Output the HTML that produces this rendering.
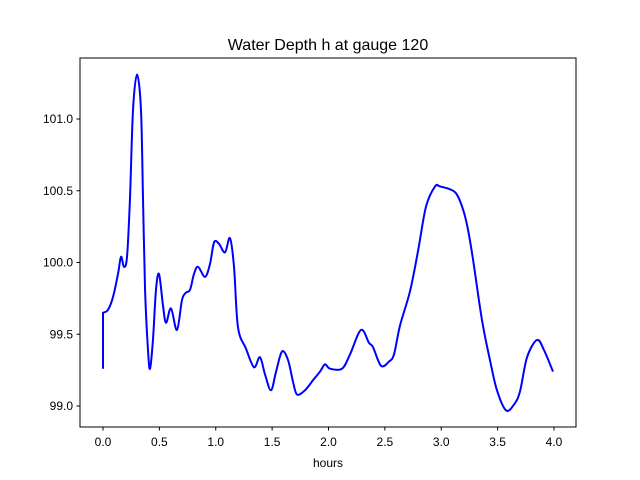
<!DOCTYPE html>
<html><head><meta charset="utf-8"><style>
body{margin:0;background:#fff;}
svg{display:block;font-family:"Liberation Sans","DejaVu Sans",sans-serif;}
</style></head><body>
<svg id="chart" width="640" height="480">
<rect width="640" height="480" fill="#fff"/>
<text x="328" y="50" font-size="16" text-anchor="middle">Water Depth h at gauge 120</text>
<text x="328" y="467" font-size="12" text-anchor="middle">hours</text>
<g id="ticks"></g>
<path id="line" fill="none" stroke="#0000ff" stroke-width="2"/>
<rect x="80" y="58" width="496" height="369" fill="none" stroke="#000" stroke-width="1"/>
</svg>
<script>
const hours=[0,0,0.044,0.089,0.133,0.160,0.186,0.213,0.239,0.266,0.302,0.337,0.355,0.373,0.399,0.417,0.443,0.470,0.497,0.532,0.559,0.603,0.656,0.701,0.736,0.772,0.807,0.843,0.905,0.949,0.985,1.029,1.082,1.126,1.162,1.197,1.268,1.339,1.392,1.437,1.490,1.535,1.588,1.641,1.685,1.721,1.792,1.863,1.925,1.969,2.013,2.120,2.191,2.288,2.359,2.395,2.466,2.537,2.581,2.634,2.723,2.794,2.865,2.945,2.989,3.122,3.193,3.237,3.282,3.361,3.432,3.494,3.574,3.645,3.698,3.761,3.849,3.911,3.991];
const depth=[99.26,99.65,99.67,99.76,99.92,100.04,99.97,100.04,100.44,101.06,101.31,101.06,100.44,99.81,99.39,99.26,99.46,99.81,99.92,99.70,99.58,99.68,99.53,99.74,99.79,99.81,99.92,99.97,99.90,99.99,100.14,100.13,100.07,100.17,99.97,99.55,99.40,99.27,99.34,99.22,99.11,99.24,99.38,99.32,99.17,99.08,99.11,99.18,99.24,99.29,99.26,99.26,99.36,99.53,99.44,99.41,99.28,99.31,99.36,99.56,99.80,100.08,100.39,100.53,100.53,100.49,100.37,100.23,100.02,99.60,99.32,99.11,98.97,99.01,99.10,99.34,99.46,99.39,99.24];
const xTicks=[0,0.5,1,1.5,2,2.5,3,3.5,4];
const xLabels=["0.0","0.5","1.0","1.5","2.0","2.5","3.0","3.5","4.0"];
const yTicks=[99,99.5,100,100.5,101];
const yLabels=["99.0","99.5","100.0","100.5","101.0"];
const X=v=>103+v*112.75;
const Y=v=>119+(101-v)*143.5;
const NS="http://www.w3.org/2000/svg";
const g=document.getElementById('ticks');
function mk(t,a){const e=document.createElementNS(NS,t);for(const k in a)e.setAttribute(k,a[k]);g.appendChild(e);return e;}
xTicks.forEach((v,i)=>{
  const l=mk('line',{x1:X(v),x2:X(v),y1:427,y2:430.5,stroke:'#000'});
  
  
  const t=mk('text',{x:X(v),y:446,'font-size':12,'text-anchor':'middle'});
  t.textContent=xLabels[i];
  
  
});
yTicks.forEach((v,i)=>{
  const l=mk('line',{x1:76.5,x2:80,y1:Y(v),y2:Y(v),stroke:'#000'});
  
  
  const t=mk('text',{x:73,y:Y(v)+4,'font-size':12,'text-anchor':'end'});
  t.textContent=yLabels[i];
  
  
});
const P=hours.map((h,i)=>[X(h),Y(depth[i])]);
let d=`M${P[0][0]},${P[0][1]} L${P[1][0]},${P[1][1]}`;
for(let i=1;i<P.length-1;i++){
  const p0=P[Math.max(i-1,1)],p1=P[i],p2=P[i+1],p3=P[Math.min(i+2,P.length-1)];
  const c1=[p1[0]+(p2[0]-p0[0])/6,p1[1]+(p2[1]-p0[1])/6];
  const c2=[p2[0]-(p3[0]-p1[0])/6,p2[1]-(p3[1]-p1[1])/6];
  d+=` C${c1[0]},${c1[1]} ${c2[0]},${c2[1]} ${p2[0]},${p2[1]}`;
}
document.getElementById('line').setAttribute('d',d);
</script>
</body></html>
